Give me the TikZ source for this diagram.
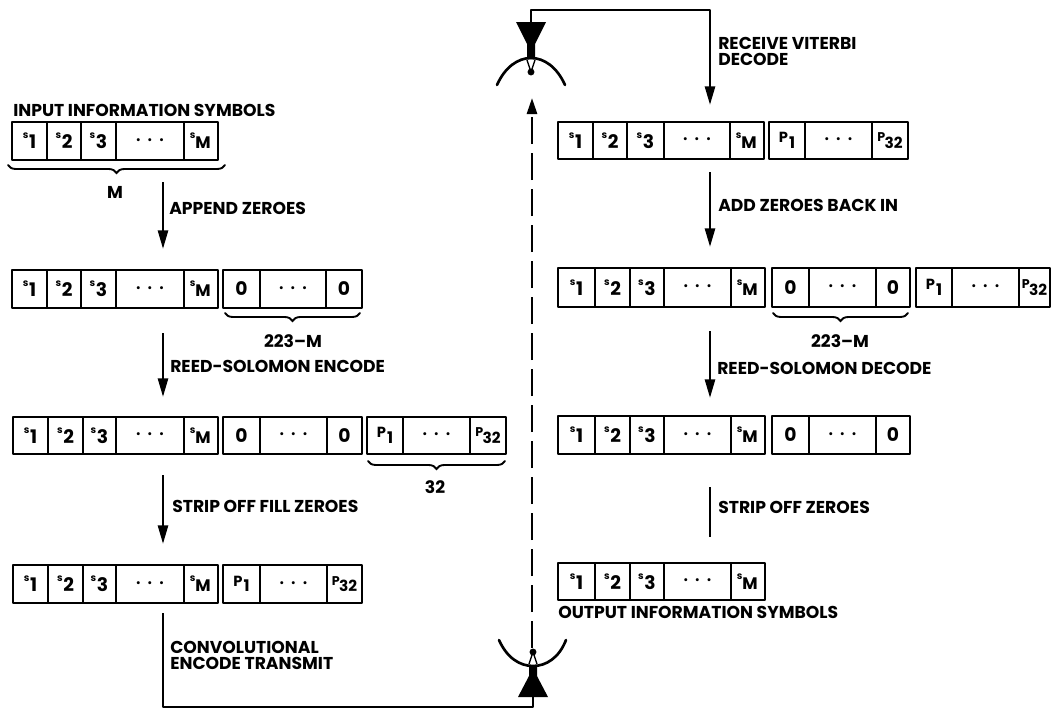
\documentclass[tikz,border=0pt]{standalone}
\usepackage{fontspec}
\setmainfont{Poppins}
\usetikzlibrary{arrows.meta,decorations.pathreplacing,calc}
\tikzset{
  cellbox/.style={draw=black,line width=2.2pt,line join=round,inner sep=0pt,outer sep=0pt,font=\fontsize{14pt}{14pt}\selectfont\bfseries},
  lab/.style={anchor=west,inner sep=0pt,font=\fontsize{12.9pt}{12pt}\selectfont\bfseries,align=left,text=black},
  clab/.style={lab,anchor=center},
  flow/.style={line width=2pt,-{Triangle[length=14pt,width=7.5pt]}},
  plainline/.style={line width=2pt},
  bracepath/.style={line width=1.4pt,line cap=round,decorate,decoration={brace,mirror,amplitude=6pt}},
  dish/.style={line width=2pt,line cap=round},
}
\newcommand{\slab}[1]{\raisebox{5.5pt}{\fontsize{7.5pt}{7pt}\selectfont s}\kern.5pt\raisebox{-2pt}{#1}}
\newcommand{\pdots}{{\fontsize{7.5pt}{6pt}\selectfont\textbullet\hspace{5pt}\textbullet\hspace{5pt}\textbullet}}
\newcommand{\onecell}[6]{%
  \pgfmathsetmacro{\cw}{((#3)-(#2))*0.75}\pgfmathsetmacro{\ch}{((#5)-(#4))*0.75}%
  \node[cellbox,minimum width=\cw pt,minimum height=\ch pt] (#1) at ({((#2)+(#3))/2},{((#4)+(#5))/2}) {#6};}
\newcommand{\sgroup}[8]{%
  \onecell{#1a}{#2}{#3}{#7}{#8}{\slab{1}}
  \onecell{#1b}{#3}{#4}{#7}{#8}{\slab{2}}
  \onecell{#1c}{#4}{#5}{#7}{#8}{\slab{3}}
  \onecell{#1d}{#5}{#6}{#7}{#8}{\pdots}
  \pgfmathsetmacro{\xe}{(#6)+34}
  \onecell{#1e}{#6}{\xe}{#7}{#8}{\kern-1pt\raisebox{5.5pt}{\fontsize{7.5pt}{7pt}\selectfont s}\raisebox{-2pt}{\fontsize{12.5pt}{12pt}\selectfont M}}}
\newcommand{\tgroup}[8]{%
  \onecell{#1a}{#2}{#3}{#6}{#7}{\ifnum#8=0 0\else\raisebox{2pt}{\fontsize{11pt}{11pt}\selectfont P}\kern1pt\raisebox{-2pt}{\fontsize{12pt}{11pt}\selectfont 1}\fi}
  \onecell{#1b}{#3}{#4}{#6}{#7}{\pdots}
  \onecell{#1c}{#4}{#5}{#6}{#7}{\ifnum#8=0 0\else\raisebox{2.5pt}{\fontsize{9.5pt}{9pt}\selectfont P}\kern-.5pt\raisebox{-2.5pt}{\fontsize{11.5pt}{11pt}\selectfont 32}\fi}}
\begin{document}
\begin{tikzpicture}[x=0.75pt,y=-0.75pt]
\path[use as bounding box] (0,0) rectangle (1051,711);

% left column
\node[lab] (tin) at (13,110) {INPUT INFORMATION SYMBOLS};
\sgroup{la}{12}{47}{81}{116}{184}{122}{160}
\sgroup{lb}{12}{47}{81}{116}{184}{270}{308}
\tgroup{lbz}{223}{260}{326}{362}{270}{308}{0}
\sgroup{lc}{13}{48}{83}{116}{184}{417}{454}
\tgroup{lcz}{223}{260}{327}{362}{417}{454}{0}
\tgroup{lcp}{367}{403}{470}{506}{417}{454}{1}
\sgroup{ld}{13}{48}{83}{116}{184}{565}{603}
\tgroup{ldp}{223}{260}{327}{362}{565}{603}{1}

% right column
\sgroup{ra}{558}{593}{627}{664}{730}{122}{159}
\tgroup{rap}{769}{805}{872}{908}{122}{159}{1}
\sgroup{rb}{558}{595}{630}{664}{731}{268}{307}
\tgroup{rbz}{772}{809}{876}{910}{268}{307}{0}
\tgroup{rbp}{916}{952}{1019}{1050}{268}{307}{1}
\sgroup{rc}{558}{595}{630}{664}{731}{416}{454}
\tgroup{rcz}{772}{809}{876}{910}{416}{454}{0}
\sgroup{rd}{558}{595}{630}{664}{731}{563}{600}
\node[lab] (tout) at (558,612) {OUTPUT INFORMATION SYMBOLS};

% braces
\coordinate (b1a) at (8,165); \coordinate (b1b) at (225,165);
\coordinate (b2a) at (225,313); \coordinate (b2b) at (360,313);
\coordinate (b3a) at (368,461); \coordinate (b3b) at (505,461);
\coordinate (b4a) at (773,313); \coordinate (b4b) at (908,313);
\draw[bracepath] (b1a) -- (b1b);
\draw[bracepath] (b2a) -- (b2b);
\draw[bracepath] (b3a) -- (b3b);
\draw[bracepath] (b4a) -- (b4b);
\node[clab] (m1) at (115,192) {M};
\node[clab] (m2) at (293,341) {223--M};
\node[clab] (m3) at (435,487) {32};
\node[clab] (m4) at (840,341) {223--M};

% flow arrows
\coordinate (a1s) at (163,182); \coordinate (a1e) at (163,249);
\coordinate (a2s) at (163,333); \coordinate (a2e) at (163,397);
\coordinate (a3s) at (163,475); \coordinate (a3e) at (163,544);
\coordinate (a4s) at (710,172); \coordinate (a4e) at (710,247);
\coordinate (a5s) at (710,331); \coordinate (a5e) at (710,398);
\coordinate (a6s) at (710,487); \coordinate (a6e) at (710,537);
\draw[flow] (a1s) -- (a1e);
\draw[flow] (a2s) -- (a2e);
\draw[flow] (a3s) -- (a3e);
\draw[flow] (a4s) -- (a4e);
\draw[flow] (a5s) -- (a5e);
\draw[plainline] (a6s) -- (a6e);
\node[lab] (t1) at (169,208) {APPEND ZEROES};
\node[lab] (t2) at (170,366) {REED-SOLOMON ENCODE};
\node[lab] (t3) at (172,506) {STRIP OFF FILL ZEROES};
\node[lab] (t4) at (170,655) {CONVOLUTIONAL\\ENCODE TRANSMIT};
\node[lab] (t5) at (718,51) {RECEIVE VITERBI\\DECODE};
\node[lab] (t6) at (718,205) {ADD ZEROES BACK IN};
\node[lab] (t7) at (717,368) {REED-SOLOMON DECODE};
\node[lab] (t8) at (718,507) {STRIP OFF ZEROES};

% top antenna
\draw[dish] (497,85) .. controls (505,67) and (518,58) .. (531,58) .. controls (544,58) and (557,67) .. (565,85);
\coordinate (topfeed) at (531,72);
\fill (topfeed) circle (2.6pt);
\draw[line width=1pt] (topfeed) -- (527,60) (topfeed) -- (535,60);
\fill (516,22) -- (546,22) -- (535,44) -- (535,59) -- (527,59) -- (527,44) -- cycle;
\coordinate (tc) at (531,22);
\coordinate (rt) at (710,105);
\draw[line width=2pt,line join=round,-{Triangle[length=14pt,width=7.5pt]}] (tc) -- (531,10) -- (710,10) -- (rt);

% bottom antenna
\draw[dish] (499,640) .. controls (507,658) and (520,666) .. (533,666) .. controls (546,666) and (559,658) .. (566,640);
\coordinate (botfeed) at (533,652);
\fill (botfeed) circle (2.6pt);
\draw[line width=1pt] (botfeed) -- (529,664) (botfeed) -- (537,664);
\fill (518,697) -- (548,697) -- (537,676) -- (537,665) -- (529,665) -- (529,676) -- cycle;
\coordinate (bc) at (533,697);
\coordinate (ls) at (163,613);
\draw[line width=2pt,line join=round] (ls) -- (163,707) -- (533,707) -- (bc);

% dashed link
\coordinate (ds) at (532,648);
\coordinate (de) at (532,98);
\draw[line width=2pt,dash pattern=on 20pt off 7pt,-{Triangle[length=12pt,width=7.5pt]}] (ds) -- (de);
\end{tikzpicture}
\end{document}
